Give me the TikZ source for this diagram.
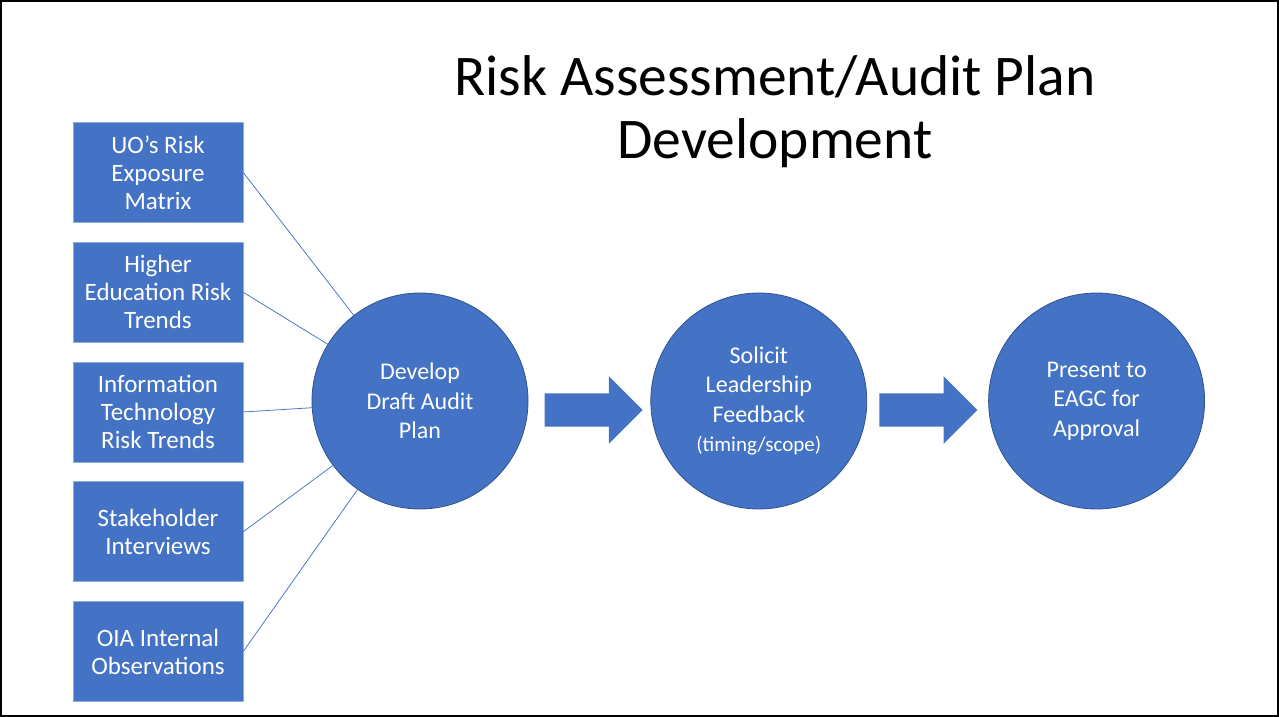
\documentclass[tikz,border=0pt]{standalone}
\usepackage{fontspec}
\setmainfont{Carlito}
\usepackage{tikz}
\usetikzlibrary{positioning}
\usetikzlibrary{shapes.arrows}
\definecolor{officeblue}{HTML}{4472C4}
\definecolor{darkblue}{HTML}{2F528F}

\begin{document}
\begin{tikzpicture}[x=1pt,y=1pt,node distance=19.25pt,
    input box/.style={rectangle,fill=officeblue,draw=officeblue!60!white,line width=0.5pt,
      minimum width=170pt,minimum height=100pt,inner sep=0pt,text=white,align=center,
      font=\fontsize{25}{28}\selectfont},
    stage/.style={circle,fill=officeblue,draw=darkblue,line width=0.8pt,minimum size=216pt,
      inner sep=0pt,text=white,align=center,font=\fontsize{24}{29.5}\selectfont},
    block arrow/.style={single arrow,fill=officeblue,draw=none,minimum height=98pt,
      inner xsep=0pt,inner ysep=16.5pt,single arrow head extend=17pt,
      single arrow head indent=0pt},
    link/.style={draw=officeblue,line width=0.75pt}]

  \useasboundingbox (0,0) rectangle (1279,717);
  \draw[line width=2pt] (1,1) rectangle (1278,716);

  \node[align=center,font=\fontsize{57.5}{63}\selectfont] (title) at (775,605)
    {Risk Assessment/Audit Plan\\Development};

  \node[input box] (uo) at (158,544.5) {UO’s Risk\\Exposure\\Matrix};
  \node[input box] (higher) [below=of uo] {Higher\\Education Risk\\Trends};
  \node[input box] (info) [below=of higher] {Information\\Technology\\Risk Trends};
  \node[input box] (stake) [below=of info] {Stakeholder\\Interviews};
  \node[input box] (oia) [below=of stake] {OIA Internal\\Observations};

  \node[stage] (develop) at (420,316) {Develop\\Draft Audit\\Plan};
  \node[stage] (solicit) [right=122pt of develop] {Solicit\\Leadership\\Feedback\\{\fontsize{21}{26}\selectfont (timing/scope)}};
  \node[stage] (present) [right=121pt of solicit] {Present to\\EAGC for\\Approval};

  \node[block arrow] (arrow1) [right=16pt of develop,yshift=-9pt] {};
  \node[block arrow] (arrow2) [right=12pt of solicit,yshift=-9pt] {};

  \path
    (uo.east) edge[link] (develop)
    (higher.east) edge[link] (develop)
    (info.east) edge[link] (develop)
    (stake.east) edge[link] (develop)
    (oia.east) edge[link] (develop)
  ;
\end{tikzpicture}
\end{document}
